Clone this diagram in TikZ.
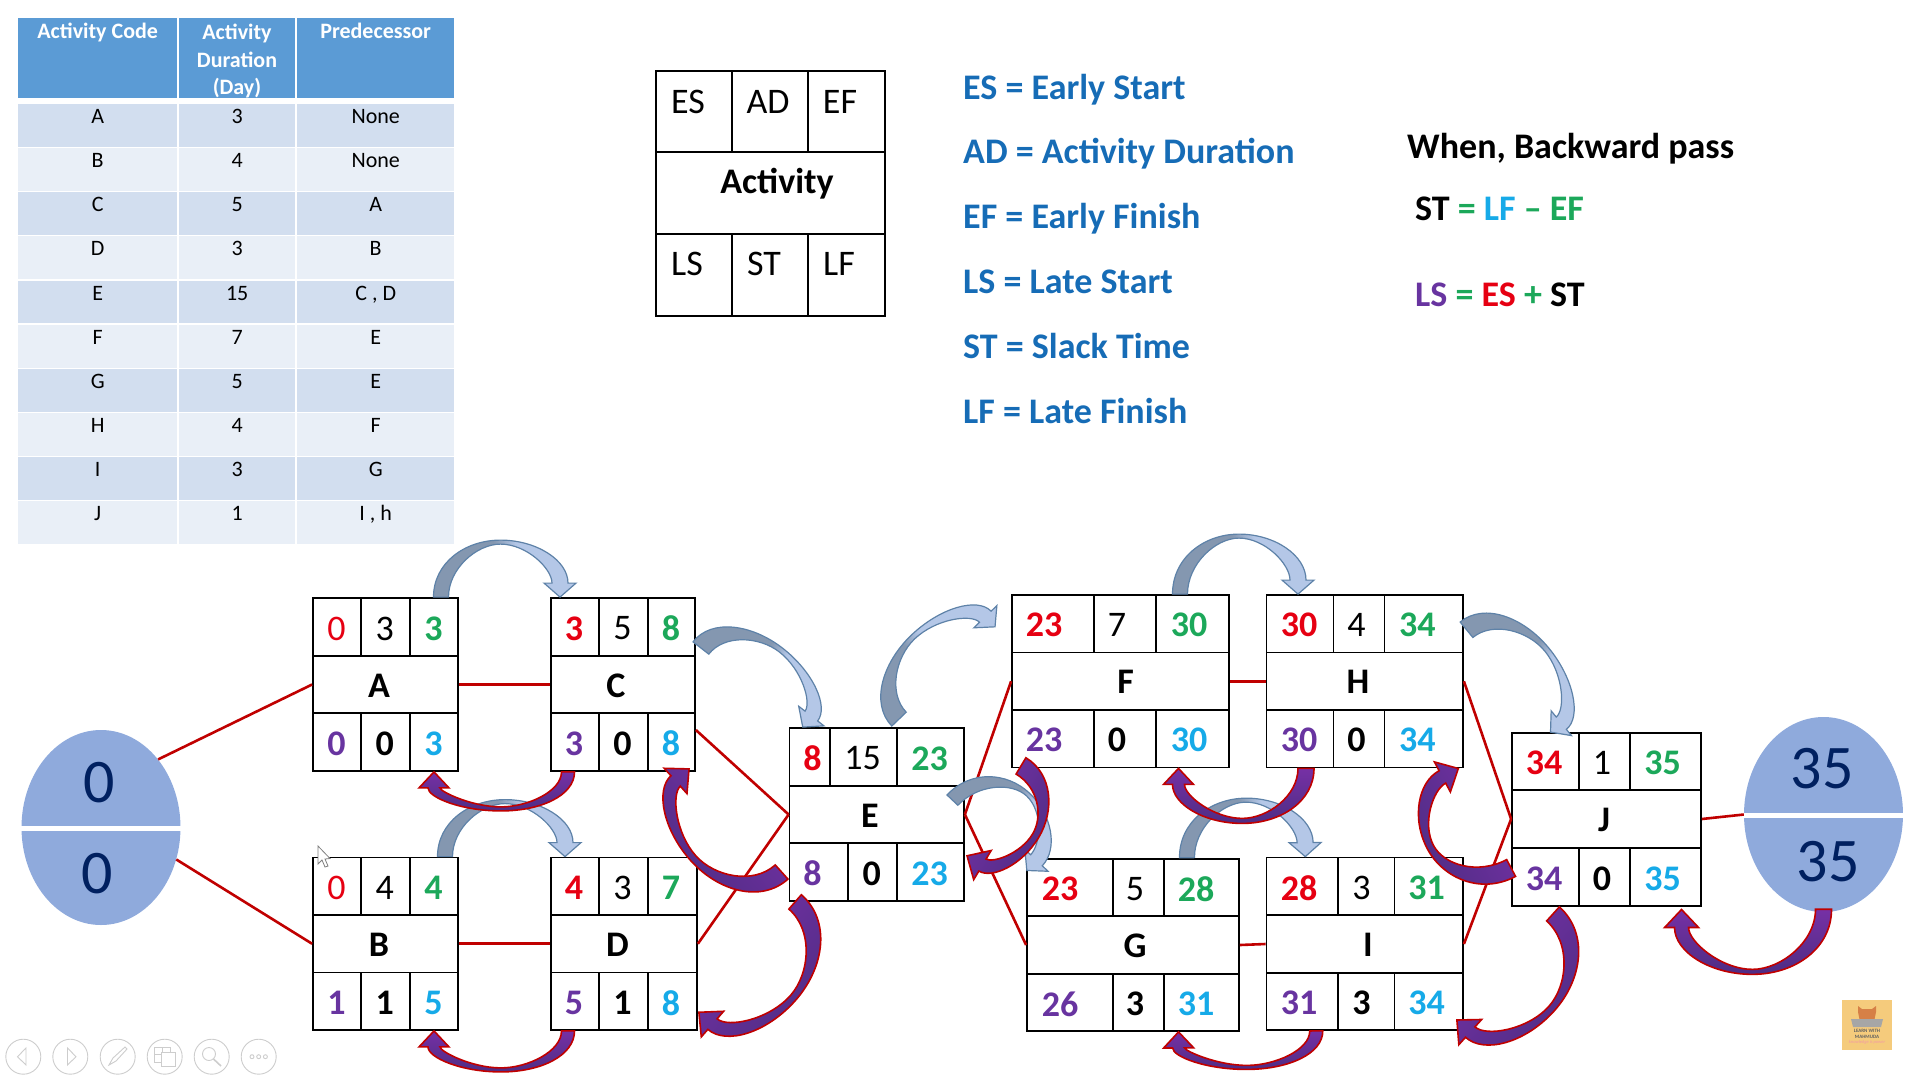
\documentclass[tikz,border=0pt]{standalone}
\usepackage{fontspec}
\usepackage{xcolor}
\usetikzlibrary{calc,shapes.geometric}
\setmainfont{Carlito}
\definecolor{esc}{RGB}{230, 0, 18}
\definecolor{efc}{RGB}{28, 168, 90}
\definecolor{lsc}{RGB}{104, 52, 160}
\definecolor{lfc}{RGB}{22, 170, 232}
\definecolor{leg}{RGB}{22, 108, 182}
\definecolor{hed}{RGB}{91, 155, 213}
\definecolor{rowa}{RGB}{210, 222, 239}
\definecolor{rowb}{RGB}{233, 239, 247}
\definecolor{ovl}{RGB}{143, 170, 220}
\definecolor{ink}{RGB}{0, 32, 96}
\definecolor{lnk}{RGB}{192, 0, 0}
\definecolor{bla}{RGB}{132, 151, 176}
\definecolor{blb}{RGB}{180, 199, 231}
\definecolor{blc}{RGB}{94, 130, 168}
\definecolor{pua}{RGB}{78, 45, 132}
\definecolor{pub}{RGB}{118, 48, 165}
\definecolor{tag}{RGB}{245, 203, 124}
\definecolor{cat}{RGB}{214, 128, 70}
\definecolor{ton}{RGB}{205, 205, 205}
\pgfdeclarehorizontalshading{passblue}{100bp}{color(0bp)=(bla); color(46bp)=(bla); color(54bp)=(blb); color(100bp)=(blb)}
\tikzset{
    boxcell/.style={draw=black, line width=1.8pt, inner sep=0pt},
    numreg/.style={inner sep=0pt, font=\fontsize{36}{36}\selectfont},
    numbold/.style={inner sep=0pt, font=\fontsize{36}{36}\selectfont\bfseries},
    link/.style={draw=lnk, line width=2.6pt},
    tabcell/.style={anchor=north west, inner sep=0pt, text height=19.7pt, text depth=22.8pt, font=\fontsize{22}{22}\selectfont},
    headcell/.style={anchor=north west, inner sep=0pt, fill=hed, text=white, text height=20pt, text depth=60pt, font=\fontsize{22}{22}\selectfont\bfseries},
    legend/.style={anchor=base west, inner sep=0pt, text=leg, font=\fontsize{36}{36}\selectfont\bfseries},
    formula/.style={anchor=base west, inner sep=0pt, font=\fontsize{36}{36}\selectfont\bfseries},
    bignum/.style={inner sep=0pt, text=ink, font=\fontsize{62}{62}\selectfont},
    oval/.style={ellipse, fill=ovl, inner sep=0pt, minimum width=159pt, minimum height=195pt},
    band/.style={fill=white, inner sep=0pt, minimum width=161pt, minimum height=5pt},
    bluearc/.style={draw=blc, line width=1.2pt, shading=passblue},
    purplearc/.style={draw=lnk, line width=1.6pt, left color=pua, right color=pub},
    toolring/.style={circle, draw=ton, line width=.9pt, inner sep=0pt, minimum size=35pt},
    toolline/.style={draw=ton, line width=.9pt}
}
\newcommand{\cellbox}[5]{
    \node[boxcell, minimum width={#4-#2}, minimum height={#5-#3}] (#1) at ({(#2+#4)/2},{(#3+#5)/2}) {};
}
\newcommand{\actbox}[6]{
    \foreach \xa/\xb/\xc/\xd/\xe/\xf in {#2} {
        \foreach \ya/\yb/\yc/\yd in {#3} {
            \cellbox{#1-es}{\xa}{\ya}{\xb}{\yb}
            \cellbox{#1-ad}{\xb}{\ya}{\xc}{\yb}
            \cellbox{#1-ef}{\xc}{\ya}{\xd}{\yb}
            \cellbox{#1-mid}{\xa}{\yb}{\xd}{\yc}
            \cellbox{#1-ls}{\xa}{\yc}{\xe}{\yd}
            \cellbox{#1-st}{\xe}{\yc}{\xf}{\yd}
            \cellbox{#1-lf}{\xf}{\yc}{\xd}{\yd}
            \node[numbold] (#1-name) at (#4,{(\yb+\yc)/2+1}) {#1};
            \foreach \pa/\va/\pb/\vb/\pc/\vc in {#5} {
                \node[numbold, text=esc] (#1-es-t) at (\pa,{(\ya+\yb)/2+1.5}) {\va};
                \node[numreg] (#1-ad-t) at (\pb,{(\ya+\yb)/2+1.5}) {\vb};
                \node[numbold, text=efc] (#1-ef-t) at (\pc,{(\ya+\yb)/2+1.5}) {\vc};
            }
            \foreach \pa/\va/\pb/\vb/\pc/\vc in {#6} {
                \node[numbold, text=lsc] (#1-ls-t) at (\pa,{(\yc+\yd)/2+1.5}) {\va};
                \node[numbold] (#1-st-t) at (\pb,{(\yc+\yd)/2+1.5}) {\vb};
                \node[numbold, text=lfc] (#1-lf-t) at (\pc,{(\yc+\yd)/2+1.5}) {\vc};
            }
        }
    }
}
\newcommand{\tablerow}[6]{
    \node[tabcell, fill=#3, minimum width=159pt] (#1-code) at (18,#2) {#4};
    \node[tabcell, fill=#3, minimum width=116pt] (#1-dur) at (179,#2) {#5};
    \node[tabcell, fill=#3, minimum width=157pt] (#1-pre) at (297,#2) {#6};
}
\newcommand{\blockarc}[9]{
    \coordinate (tl) at (#7);
    \coordinate (hd) at (#8);
    \path let \p1=($(hd)-(tl)$) in \pgfextra{\pgfmathsetmacro{\arcang}{atan2(\y1,\x1)}\pgfmathsetmacro{\arclen}{veclen(\x1,\y1)}\global\let\arcangg\arcang\global\let\arclenn\arclen};
    \begin{scope}[shift={(tl)}, rotate=\arcangg, x=1pt, y=1pt]
        \path[#1, shading angle=\arcangg] (-#2/2,0) .. controls (-#2/2,{.6*#9}) and ({.2*\arclenn},#9) .. ({.5*\arclenn},#9) .. controls ({.8*\arclenn},#9) and ({\arclenn+#5},{.65*#9}) .. ({\arclenn+#5},#4) -- ({\arclenn+#3},#4) -- (\arclenn,0) -- ({\arclenn-#3},#4) -- ({\arclenn-#5},#4) .. controls ({\arclenn-#5},{.5*#9}) and ({.72*\arclenn},{#9-#6}) .. ({.5*\arclenn},{#9-#6}) .. controls ({.30*\arclenn},{#9-#6}) and (#2/2,{.5*#9}) .. (#2/2,0) -- cycle;
    \end{scope}
}
\newcommand{\bluepass}[3]{\blockarc{bluearc}{15}{16}{14}{8}{4}{#1}{#2}{#3}}
\newcommand{\bluewide}[3]{\blockarc{bluearc}{20}{16}{14}{8}{5}{#1}{#2}{#3}}
\newcommand{\purplepass}[3]{\blockarc{purplearc}{13}{15}{16}{6}{4}{#1}{#2}{#3}}
\newcommand{\purplewide}[3]{\blockarc{purplearc}{19}{17}{18}{7}{7}{#1}{#2}{#3}}
\begin{document}
\begin{tikzpicture}[x=1pt, y=-1pt]
        \useasboundingbox (0,0) rectangle (1920,1080);

        \node[headcell, minimum width=159pt] (head-code) at (18,18) {Activity Code};
        \node[headcell, minimum width=116pt] (head-dur) at (179,18) {};
        \node[headcell, minimum width=157pt] (head-pre) at (297,18) {Predecessor};
        \node[inner sep=0pt, text=white, align=center, font=\fontsize{22}{27.7}\selectfont\bfseries] (head-dur-t) at (237,61) {Activity\\Duration\\(Day)};
        \tablerow{ra}{104}{rowa}{A}{3}{None}
        \tablerow{rb}{148}{rowb}{B}{4}{None}
        \tablerow{rc}{192}{rowa}{C}{5}{A}
        \tablerow{rd}{236}{rowb}{D}{3}{B}
        \tablerow{re}{280.5}{rowa}{E}{15}{C , D}
        \tablerow{rf}{325}{rowb}{F}{7}{E}
        \tablerow{rg}{369}{rowa}{G}{5}{E}
        \tablerow{rh}{413}{rowb}{H}{4}{F}
        \tablerow{ri}{457}{rowa}{I}{3}{G}
        \tablerow{rj}{501}{rowb}{J}{1}{I , h}

        \cellbox{key-es}{656}{71}{732}{152}
        \cellbox{key-ad}{732}{71}{808}{152}
        \cellbox{key-ef}{808}{71}{885}{152}
        \cellbox{key-mid}{656}{152}{885}{234}
        \cellbox{key-ls}{656}{234}{732}{316}
        \cellbox{key-st}{732}{234}{808}{316}
        \cellbox{key-lf}{808}{234}{885}{316}
        \node[numreg] (key-es-t) at (688,102) {ES};
        \node[numreg] (key-ad-t) at (768,102) {AD};
        \node[numreg] (key-ef-t) at (840,102) {EF};
        \node[numbold] (key-name) at (777,184) {Activity};
        \node[numreg] (key-ls-t) at (687,264) {LS};
        \node[numreg] (key-st-t) at (764,264) {ST};
        \node[numreg] (key-lf-t) at (839,264) {LF};

        \node[legend] (leg-es) at (963,99.3) {ES = Early Start};
        \node[legend] (leg-ad) at (963,163.7) {AD = Activity Duration};
        \node[legend] (leg-ef) at (963,228) {EF = Early Finish};
        \node[legend] (leg-ls) at (963,293) {LS = Late Start};
        \node[legend] (leg-st) at (963,358) {ST = Slack Time};
        \node[legend] (leg-lf) at (963,423) {LF = Late Finish};

        \node[formula] (when) at (1407,158) {When, Backward pass};
        \node[formula] (slack) at (1415,220) {ST \textcolor{efc}{=} \textcolor{lfc}{LF} \textcolor{efc}{– EF}};
        \node[formula] (late) at (1415,306) {\textcolor{lsc}{LS} \textcolor{efc}{=} \textcolor{esc}{ES} \textcolor{efc}{+} ST};

        \node[oval] (startnode) at (101,827.5) {};
        \node[band] (startband) at (101,828.5) {};
        \node[bignum] (start-top) at (99,782.5) {0};
        \node[bignum] (start-bot) at (97,873.5) {0};
        \node[oval] (endnode) at (1823.5,814.5) {};
        \node[band] (endband) at (1823.5,815.3) {};
        \node[bignum] (end-top) at (1822,769) {35};
        \node[bignum] (end-bot) at (1828,862) {35};

        \actbox{A}{313/361/410/458/361/410}{598/656/713/771}{379}{336.5/\mdseries 0/384.7/3/433.6/3}{336.5/0/384.7/0/433.6/3}
        \actbox{C}{551/599/648/695/599/648}{598/656/713/771}{616}{574/3/622.6/5/671/8}{574/3/622.6/0/671/8}
        \actbox{B}{313/361/410/458/361/410}{857.5/915/972.5/1030}{379}{336.5/\mdseries 0/384.7/4/433.6/4}{336.5/1/384.7/1/433.6/5}
        \actbox{D}{551/599/648/697/599/648}{857.5/915/972.5/1030}{617.5}{574/4/622.6/3/671/7}{574/5/622.6/1/671/8}
        \actbox{E}{789.5/830/897/964/848/897}{728/786/843/901}{870}{812.5/8/862.5/15/929.6/23}{812.5/8/871.7/0/929.6/23}
        \actbox{F}{1012/1094/1156/1229/1094/1156}{595/652.5/710/767.5}{1125.6}{1044/23/1117/7/1189/30}{1044/23/1117/0/1189/30}
        \actbox{H}{1266.5/1333.5/1384.5/1463/1333.5/1384.5}{595/652.5/710/767.5}{1358}{1299/30/1356.6/4/1417.4/34}{1299/30/1356.6/0/1417.4/34}
        \actbox{G}{1027/1113/1164/1239/1113/1164}{858.6/916/974/1031}{1135}{1060/23/1135/5/1196/28}{1060/26/1135/3/1196/31}
        \actbox{I}{1266.5/1338/1394.5/1463/1338/1394.5}{857.5/915/973/1030}{1368}{1299/28/1361.6/3/1426.5/31}{1299/31/1361.6/3/1426.5/34}
        \actbox{J}{1512/1579/1630/1701/1579/1630}{733/790/848/906}{1604}{1544/34/1602/1/1662.5/35}{1544/34/1602/0/1662.5/35}

        \draw[link] (startnode.50) -- (A-mid.west);
        \draw[link] (startnode.-23) -- (B-mid.west);
        \draw[link] (A-mid.east) -- (C-mid.west);
        \draw[link] (B-mid.east) -- (D-mid.west);
        \draw[link] ([yshift=12pt]C-lf.east) -- (E-mid.west);
        \draw[link] (D-mid.east) -- (E-mid.west);
        \draw[link] (E-mid.east) -- (F-mid.west);
        \draw[link] (E-mid.east) -- (G-mid.west);
        \draw[link] (F-mid.east) -- (H-mid.west);
        \draw[link] (G-mid.east) -- (I-mid.west);
        \draw[link] (H-mid.east) -- (J-mid.west);
        \draw[link] (I-mid.east) -- (J-mid.west);
        \draw[link] (J-mid.east) -- (endnode.west);

        \bluepass{[xshift=7pt]A-ef.north}{[xshift=-15pt]C-es.north}{57}
        \bluepass{[xshift=11pt]B-ef.north}{[xshift=-10pt]D-es.north}{57}
        \bluewide{[shift={(5pt,-21pt)}]C-ef.east}{[xshift=-7pt]E-es.north}{50}
        \bluewide{[shift={(-31.5pt,8pt)}]E-ef.north}{[shift={(-16pt,-3pt)}]F-es.west}{52}
        \bluepass{[xshift=-12.5pt]F-ef.north}{[xshift=-2pt]H-es.north}{60}
        \bluepass{[shift={(-12.5pt,-15pt)}]E-mid.north east}{[shift={(1pt,-13pt)}]G-es.north west}{58}
        \bluepass{[xshift=-14.5pt]G-ef.north}{[xshift=3pt]I-es.north}{59}
        \bluewide{[shift={(2.6pt,-6pt)}]H-ef.east}{[xshift=5pt]J-es.north}{52}

        \purplepass{[xshift=-7pt]C-ls.south}{A-lf.south}{39}
        \purplepass{[xshift=-7pt]D-ls.south}{B-lf.south}{41}
        \purplewide{[xshift=-7pt]E-ls.west}{[shift={(17.5pt,3pt)}]C-lf.south}{60}
        \purplewide{[xshift=6.5pt]E-ls.south west}{[shift={(1pt,-11pt)}]D-lf.east}{65}
        \purplewide{[shift={(-32pt,2.5pt)}]F-ls.south}{[shift={(2pt,16pt)}]E-lf.east}{52}
        \blockarc{purplearc}{16}{15}{16}{6}{5}{[xshift=6pt]H-ls.south}{[xshift=-14pt]F-lf.south}{55}
        \purplepass{[xshift=14pt]I-ls.south}{[xshift=-23pt]G-lf.south}{38}
        \purplewide{[yshift=9pt]J-ls.west}{[xshift=34.5pt]H-lf.south}{65}
        \purplewide{[shift={(7.5pt,-7pt)}]J-ls.south}{[shift={(-7pt,-18.5pt)}]I-lf.east}{66}
        \blockarc{purplearc}{16}{17}{18}{7}{5}{[yshift=3pt]endnode.south}{[shift={(16pt,-2.6pt)}]J-lf.south}{65}

        \node[toolring] (tool-a) at (23.3,1056.7) {};
        \node[toolring] (tool-b) at (70.3,1056.7) {};
        \node[toolring] (tool-c) at (117.7,1056.7) {};
        \node[toolring] (tool-d) at (164.7,1056.7) {};
        \node[toolring] (tool-e) at (211.7,1056.7) {};
        \node[toolring] (tool-f) at (258.7,1056.7) {};
        \draw[toolline] (26,1048) -- (17.5,1056.7) -- (26,1065) -- cycle;
        \draw[toolline] (67.5,1048) -- (76,1056.7) -- (67.5,1065) -- cycle;
        \draw[toolline] (109,1065) -- (113,1058) -- (125,1047) -- (127,1049) -- (116,1061) -- cycle;
        \draw[toolline] (154,1047) rectangle (170,1062);
        \draw[toolline] (162,1047) -- (162,1052);
        \draw[toolline] (154,1054) -- (161,1054);
        \draw[toolline, fill=white] (161,1052) rectangle (175,1066);
        \draw[toolline] (209,1054) circle (6.5pt);
        \draw[toolline, line width=1.6pt] (213.5,1059) -- (221,1066);
        \draw[toolline] (252,1056.7) circle (2pt);
        \draw[toolline] (258.7,1056.7) circle (2pt);
        \draw[toolline] (265.4,1056.7) circle (2pt);

        \draw[draw=gray, fill=white, line width=.8pt] (318,846) -- (318,864) -- (322,860) -- (325,867) -- (328,866) -- (325,859) -- (330,858.5) -- cycle;

        \node[fill=tag, inner sep=0pt, minimum width=50pt, minimum height=50pt] (badge) at (1867,1025) {};
        \fill[cat] (1858,1012) -- (1858,1006) -- (1862,1009) -- (1872,1009) -- (1876,1006) -- (1876,1012) -- (1874,1022) -- (1860,1022) -- cycle;
        \fill[gray!70] (1851,1019) -- (1883,1019) -- (1881,1027) -- (1853,1027) -- cycle;
        \node[inner sep=0pt, text=gray!75!black, align=center, font=\fontsize{5}{5.5}\selectfont\bfseries] (badge-t) at (1867,1034) {LEARN WITH\\MAHMUDA};
        \node[inner sep=0pt, text=pink!80!purple, font=\fontsize{4.5}{5}\selectfont\itshape] (badge-s) at (1867,1042) {knowledge is power};
    \end{tikzpicture}
\end{document}
